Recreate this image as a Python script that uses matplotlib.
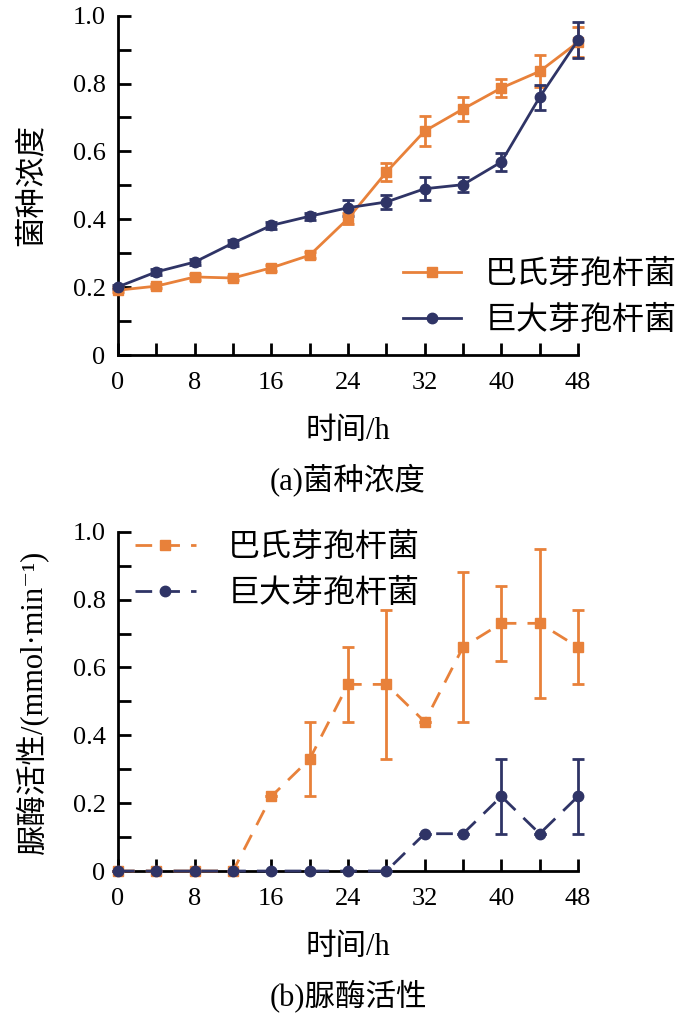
import matplotlib
matplotlib.use("Agg")
import matplotlib.pyplot as plt
from matplotlib.lines import Line2D
from matplotlib.ticker import MultipleLocator, FixedLocator, FuncFormatter

plt.rcParams['font.family'] = ['Liberation Serif', 'Noto Sans CJK SC', 'DejaVu Serif']

ORANGE = '#E8813A'
NAVY = '#2F3466'

hours = [0, 4, 8, 12, 16, 20, 24, 28, 32, 36, 40, 44, 48]
names = ['巴氏芽孢杆菌', '巨大芽孢杆菌']

# (a) 菌种浓度
conc_bp = [0.191, 0.203, 0.230, 0.227, 0.257, 0.294, 0.402, 0.539, 0.660, 0.725, 0.787, 0.836, 0.922]
conc_bp_err = [0.006, 0.006, 0.008, 0.007, 0.008, 0.009, 0.016, 0.027, 0.045, 0.034, 0.026, 0.047, 0.044]
conc_bm = [0.201, 0.245, 0.274, 0.330, 0.382, 0.409, 0.434, 0.451, 0.490, 0.502, 0.569, 0.760, 0.928]
conc_bm_err = [0.006, 0.008, 0.008, 0.010, 0.010, 0.010, 0.023, 0.021, 0.034, 0.022, 0.026, 0.037, 0.054]

# (b) 脲酶活性
ure_bp = [0, 0, 0, 0, 0.22, 0.33, 0.55, 0.55, 0.44, 0.66, 0.73, 0.73, 0.66]
ure_bp_err = [0, 0, 0, 0, 0, 0.11, 0.11, 0.22, 0, 0.22, 0.11, 0.22, 0.11]
ure_bm = [0, 0, 0, 0, 0, 0, 0, 0, 0.11, 0.11, 0.22, 0.11, 0.22]
ure_bm_err = [0, 0, 0, 0, 0, 0, 0, 0, 0, 0, 0.11, 0, 0.11]

CJK_SIZE = 22
LEG_SIZE = 23
TICK_SIZE = 19


def fmt_y(v, pos):
    return '0' if abs(v) < 1e-9 else '%.1f' % v


def style_axes(ax, ylabel):
    ax.set_xlim(0, 48)
    ax.set_ylim(0, 1.0)
    for s in ['top', 'right']:
        ax.spines[s].set_visible(False)
    for s in ['left', 'bottom']:
        ax.spines[s].set_linewidth(2)
    ax.xaxis.set_major_locator(FixedLocator(range(0, 49, 8)))
    ax.xaxis.set_minor_locator(FixedLocator(range(4, 49, 8)))
    ax.yaxis.set_major_locator(MultipleLocator(0.2))
    ax.yaxis.set_minor_locator(MultipleLocator(0.1))
    ax.yaxis.set_major_formatter(FuncFormatter(fmt_y))
    ax.tick_params(which='both', direction='in', length=9, width=2, labelsize=TICK_SIZE)
    ax.tick_params(axis='x', which='major', pad=12)
    ax.tick_params(axis='y', which='major', pad=9)
    ax.set_xlabel('时间/h', fontsize=CJK_SIZE)
    ax.xaxis.label.set_va('center')
    ax.xaxis.set_label_coords(0.5, -0.224)
    ax.set_ylabel(ylabel, fontsize=CJK_SIZE)
    ax.yaxis.label.set_va('center')
    ax.yaxis.set_label_coords(-0.187, 0.5)


def draw(ax, y, err, color, marker, ms, dashes=None):
    kw = dict(lw=2, elinewidth=2, capsize=4, capthick=2, clip_on=False,
              color=color, marker=marker, ms=ms, zorder=3)
    if dashes:
        kw['dashes'] = dashes
    e = ax.errorbar(hours, y, yerr=err, **kw)
    for b in e[2]:
        b.set_clip_on(False)
        b.set_linestyle('-')
    for c in e[1]:
        c.set_clip_on(False)


fig = plt.figure(figsize=(6.83, 10.19), dpi=100)
ax1 = fig.add_axes([0.1728, 0.6516, 0.6735, 0.3330])
ax2 = fig.add_axes([0.1728, 0.1452, 0.6735, 0.3330])

style_axes(ax1, '菌种浓度')
style_axes(ax2, '脲酶活性/(mmol·min⁻¹)')

draw(ax1, conc_bp, conc_bp_err, ORANGE, 's', 6.5)
draw(ax1, conc_bm, conc_bm_err, NAVY, 'o', 7.5)
h1 = [Line2D([], [], color=ORANGE, lw=2, marker='s', ms=6.5),
      Line2D([], [], color=NAVY, lw=2, marker='o', ms=7.5)]
ax1.legend(h1, names, loc='upper left', bbox_to_anchor=(0.62, 0.28), frameon=False,
           fontsize=LEG_SIZE, handlelength=1.8, handletextpad=0.75, labelspacing=0.5,
           borderpad=0, borderaxespad=0)
fig.text(0.5096, 1 - 480 / 1019, '(a)菌种浓度', ha='center', va='center', fontsize=CJK_SIZE)

draw(ax2, ure_bp, ure_bp_err, ORANGE, 's', 6.5, dashes=(6, 4))
draw(ax2, ure_bm, ure_bm_err, NAVY, 'o', 7.5, dashes=(6, 4))
h2 = [Line2D([], [], color=ORANGE, lw=2, marker='s', ms=6.5, dashes=(6, 4)),
      Line2D([], [], color=NAVY, lw=2, marker='o', ms=7.5, dashes=(6, 4))]
ax2.legend(h2, names, loc='upper left', bbox_to_anchor=(0.037, 0.996), frameon=False,
           fontsize=LEG_SIZE, handlelength=1.9, handletextpad=1.0, labelspacing=0.5,
           borderpad=0, borderaxespad=0)
fig.text(0.5096, 1 - 996 / 1019, '(b)脲酶活性', ha='center', va='center', fontsize=CJK_SIZE)

fig.savefig('out.png', dpi=100)
